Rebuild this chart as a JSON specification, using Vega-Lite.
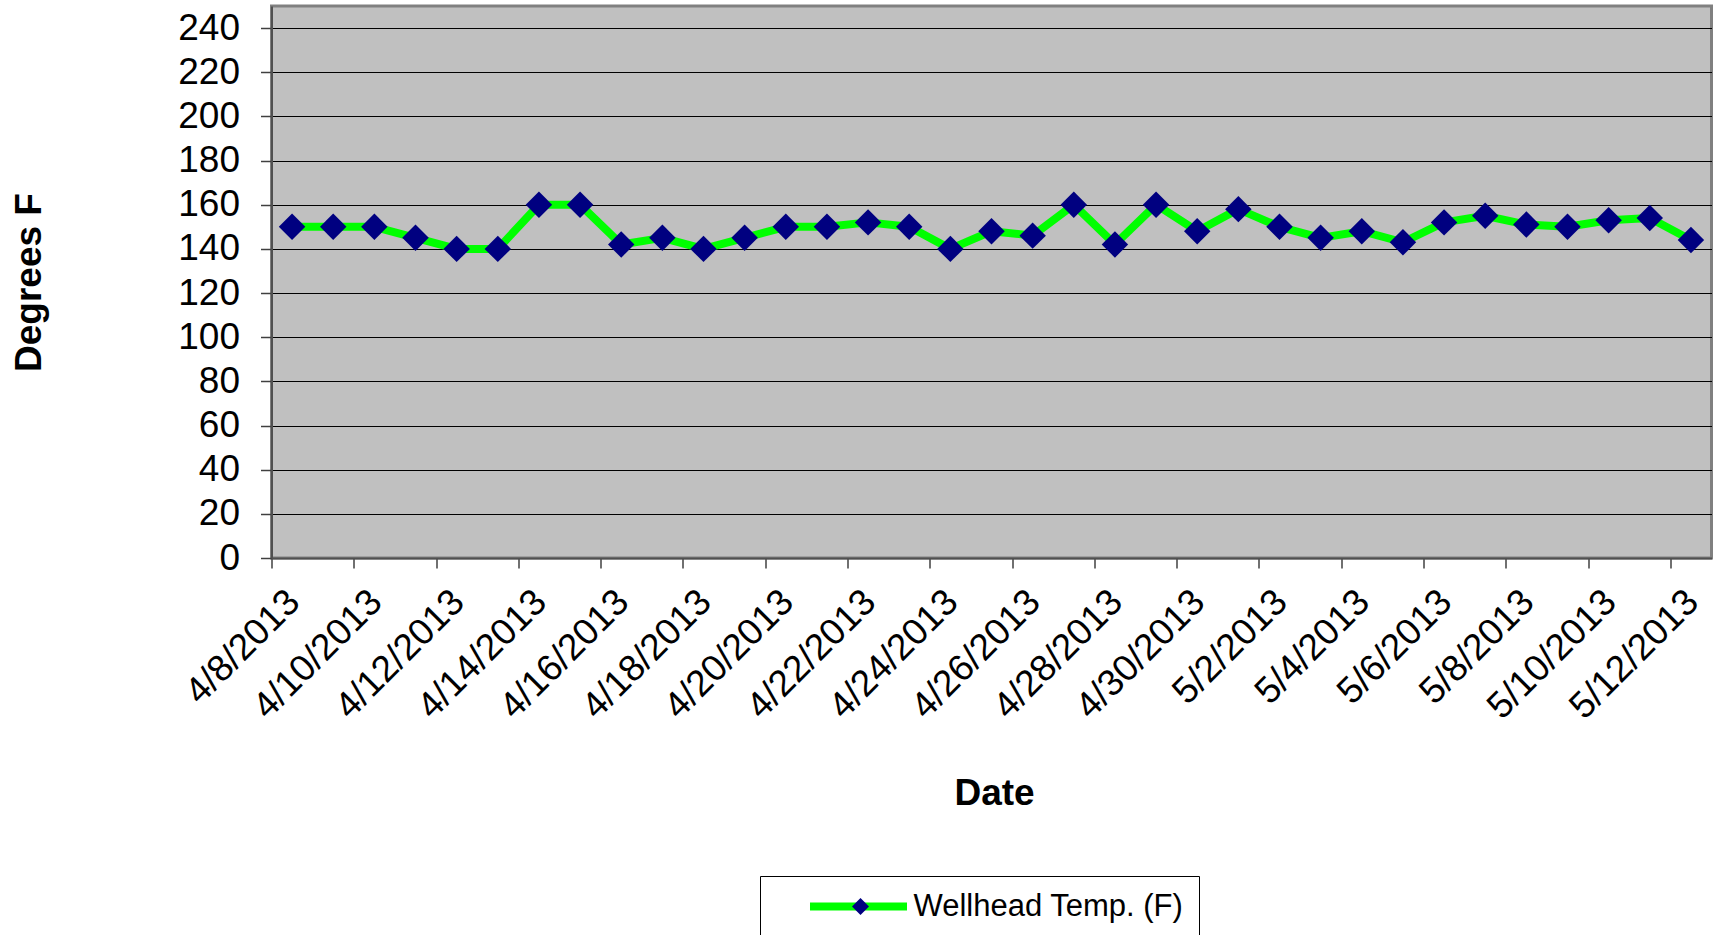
{
  "$schema": "https://vega.github.io/schema/vega-lite/v6.json",
  "width": 1440,
  "height": 552,
  "autosize": {"type": "none"},
  "padding": {"left": 271.5, "top": 6, "right": 6.5, "bottom": 377},
  "background": "white",
  "config": {
    "font": "Liberation Sans",
    "view": {"fill": "#C0C0C0", "stroke": "#808080", "strokeWidth": 3},
    "axis": {
      "labelFont": "Liberation Sans",
      "titleFont": "Liberation Sans",
      "labelColor": "black",
      "titleColor": "black",
      "domainColor": "#505050",
      "domainWidth": 2,
      "tickColor": "#404040",
      "tickWidth": 1.5,
      "gridColor": "black",
      "gridWidth": 1,
      "gridOpacity": 1
    },
    "legend": {"labelFont": "Liberation Sans", "labelColor": "black"}
  },
  "data": {
    "values": [
      {"date": "2013-04-08T12:00:00Z", "temp": 150, "series": "Wellhead Temp. (F)"},
      {"date": "2013-04-09T12:00:00Z", "temp": 150, "series": "Wellhead Temp. (F)"},
      {"date": "2013-04-10T12:00:00Z", "temp": 150, "series": "Wellhead Temp. (F)"},
      {"date": "2013-04-11T12:00:00Z", "temp": 145, "series": "Wellhead Temp. (F)"},
      {"date": "2013-04-12T12:00:00Z", "temp": 140, "series": "Wellhead Temp. (F)"},
      {"date": "2013-04-13T12:00:00Z", "temp": 140, "series": "Wellhead Temp. (F)"},
      {"date": "2013-04-14T12:00:00Z", "temp": 160, "series": "Wellhead Temp. (F)"},
      {"date": "2013-04-15T12:00:00Z", "temp": 160, "series": "Wellhead Temp. (F)"},
      {"date": "2013-04-16T12:00:00Z", "temp": 142, "series": "Wellhead Temp. (F)"},
      {"date": "2013-04-17T12:00:00Z", "temp": 145, "series": "Wellhead Temp. (F)"},
      {"date": "2013-04-18T12:00:00Z", "temp": 140, "series": "Wellhead Temp. (F)"},
      {"date": "2013-04-19T12:00:00Z", "temp": 145, "series": "Wellhead Temp. (F)"},
      {"date": "2013-04-20T12:00:00Z", "temp": 150, "series": "Wellhead Temp. (F)"},
      {"date": "2013-04-21T12:00:00Z", "temp": 150, "series": "Wellhead Temp. (F)"},
      {"date": "2013-04-22T12:00:00Z", "temp": 152, "series": "Wellhead Temp. (F)"},
      {"date": "2013-04-23T12:00:00Z", "temp": 150, "series": "Wellhead Temp. (F)"},
      {"date": "2013-04-24T12:00:00Z", "temp": 140, "series": "Wellhead Temp. (F)"},
      {"date": "2013-04-25T12:00:00Z", "temp": 148, "series": "Wellhead Temp. (F)"},
      {"date": "2013-04-26T12:00:00Z", "temp": 146, "series": "Wellhead Temp. (F)"},
      {"date": "2013-04-27T12:00:00Z", "temp": 160, "series": "Wellhead Temp. (F)"},
      {"date": "2013-04-28T12:00:00Z", "temp": 142, "series": "Wellhead Temp. (F)"},
      {"date": "2013-04-29T12:00:00Z", "temp": 160, "series": "Wellhead Temp. (F)"},
      {"date": "2013-04-30T12:00:00Z", "temp": 148, "series": "Wellhead Temp. (F)"},
      {"date": "2013-05-01T12:00:00Z", "temp": 158, "series": "Wellhead Temp. (F)"},
      {"date": "2013-05-02T12:00:00Z", "temp": 150, "series": "Wellhead Temp. (F)"},
      {"date": "2013-05-03T12:00:00Z", "temp": 145, "series": "Wellhead Temp. (F)"},
      {"date": "2013-05-04T12:00:00Z", "temp": 148, "series": "Wellhead Temp. (F)"},
      {"date": "2013-05-05T12:00:00Z", "temp": 143, "series": "Wellhead Temp. (F)"},
      {"date": "2013-05-06T12:00:00Z", "temp": 152, "series": "Wellhead Temp. (F)"},
      {"date": "2013-05-07T12:00:00Z", "temp": 155, "series": "Wellhead Temp. (F)"},
      {"date": "2013-05-08T12:00:00Z", "temp": 151, "series": "Wellhead Temp. (F)"},
      {"date": "2013-05-09T12:00:00Z", "temp": 150, "series": "Wellhead Temp. (F)"},
      {"date": "2013-05-10T12:00:00Z", "temp": 153, "series": "Wellhead Temp. (F)"},
      {"date": "2013-05-11T12:00:00Z", "temp": 154, "series": "Wellhead Temp. (F)"},
      {"date": "2013-05-12T12:00:00Z", "temp": 144, "series": "Wellhead Temp. (F)"}
    ]
  },
  "layer": [
    {
      "mark": {"type": "line", "strokeWidth": 8, "strokeJoin": "round", "strokeCap": "round"},
      "encoding": {
        "x": {
          "field": "date",
          "type": "temporal",
          "scale": {
            "type": "utc",
            "domain": [
              {"year": 2013, "month": 4, "date": 8, "utc": true},
              {"year": 2013, "month": 5, "date": 13, "utc": true}
            ],
            "nice": false
          },
          "axis": {
            "title": "Date",
            "titleFontSize": 37,
            "titleFontWeight": "bold",
            "titleX": 722.5,
            "titleY": 235,
            "titleBaseline": "middle",
            "grid": false,
            "values": [
              {"year": 2013, "month": 4, "date": 8, "utc": true},
              {"year": 2013, "month": 4, "date": 10, "utc": true},
              {"year": 2013, "month": 4, "date": 12, "utc": true},
              {"year": 2013, "month": 4, "date": 14, "utc": true},
              {"year": 2013, "month": 4, "date": 16, "utc": true},
              {"year": 2013, "month": 4, "date": 18, "utc": true},
              {"year": 2013, "month": 4, "date": 20, "utc": true},
              {"year": 2013, "month": 4, "date": 22, "utc": true},
              {"year": 2013, "month": 4, "date": 24, "utc": true},
              {"year": 2013, "month": 4, "date": 26, "utc": true},
              {"year": 2013, "month": 4, "date": 28, "utc": true},
              {"year": 2013, "month": 4, "date": 30, "utc": true},
              {"year": 2013, "month": 5, "date": 2, "utc": true},
              {"year": 2013, "month": 5, "date": 4, "utc": true},
              {"year": 2013, "month": 5, "date": 6, "utc": true},
              {"year": 2013, "month": 5, "date": 8, "utc": true},
              {"year": 2013, "month": 5, "date": 10, "utc": true},
              {"year": 2013, "month": 5, "date": 12, "utc": true}
            ],
            "format": "%-m/%-d/%Y",
            "labelAngle": -45,
            "labelAlign": "right",
            "labelBaseline": "middle",
            "labelFontSize": 37,
            "labelPadding": 28,
            "labelOffset": 22,
            "labelOverlap": false,
            "labelBound": false,
            "labelFlush": false,
            "tickSize": 10
          }
        },
        "y": {
          "field": "temp",
          "type": "quantitative",
          "scale": {"domain": [0, 250], "nice": false, "zero": true},
          "axis": {
            "title": "Degrees F",
            "titleFontSize": 37,
            "titleFontWeight": "bold",
            "titleX": -242.5,
            "titleY": 276,
            "titleBaseline": "middle",
            "values": [0, 20, 40, 60, 80, 100, 120, 140, 160, 180, 200, 220, 240],
            "labelFontSize": 37,
            "labelPadding": 21,
            "tickSize": 11,
            "grid": true
          }
        },
        "stroke": {
          "field": "series",
          "type": "nominal",
          "scale": {"range": ["#00FF00"]},
          "legend": {
            "title": null,
            "orient": "none",
            "legendX": 488.5,
            "legendY": 870,
            "symbolType": "stroke",
            "symbolStrokeWidth": 8,
            "symbolSize": 9409,
            "symbolOffset": 31,
            "clipHeight": 31,
            "labelOffset": 2.5,
            "labelFontSize": 31,
            "labelLimit": 600,
            "labelExpr": "datum.label + '\u00a0\u00a0\u00a0'",
            "padding": 15,
            "strokeColor": "black",
            "fillColor": "white"
          }
        }
      }
    },
    {
      "mark": {"type": "point", "shape": "diamond", "filled": true, "size": 700, "opacity": 1},
      "encoding": {
        "x": {"field": "date", "type": "temporal"},
        "y": {"field": "temp", "type": "quantitative"},
        "fill": {
          "datum": "Wellhead Temp. (F)",
          "type": "nominal",
          "scale": {"range": ["#000080"]},
          "legend": {
            "title": null,
            "orient": "none",
            "legendX": 488.5,
            "legendY": 870,
            "symbolType": "diamond",
            "symbolSize": 289,
            "symbolOffset": 70,
            "symbolStrokeWidth": 0,
            "clipHeight": 31,
            "labelExpr": "''",
            "labelFontSize": 31,
            "padding": 15
          }
        }
      }
    }
  ]
}
